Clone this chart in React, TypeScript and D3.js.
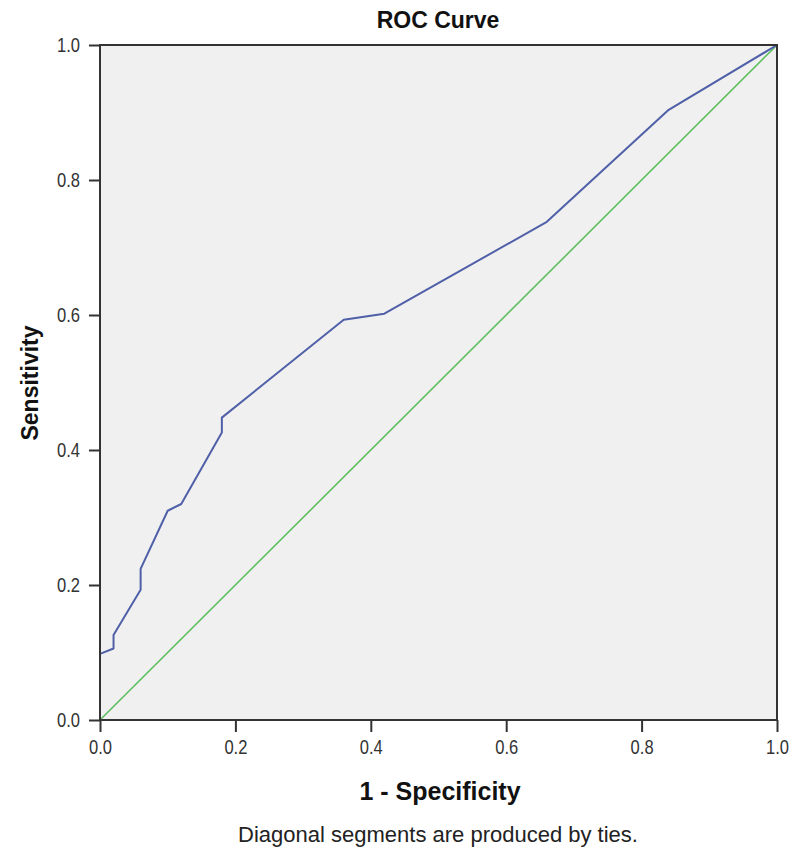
import React, { useEffect, useRef } from 'react';
import * as d3 from 'd3';

// ROC points
const falsePositiveRate = [0, 0, 0.02, 0.02, 0.06, 0.06, 0.10, 0.12, 0.18, 0.18, 0.36, 0.42, 0.66, 0.84, 1];
const sensitivity = [0, 0.098, 0.106, 0.126, 0.193, 0.224, 0.31, 0.32, 0.426, 0.448, 0.593, 0.602, 0.738, 0.904, 1];
const referenceLine = [0, 1];
const tickValues = [0, 0.2, 0.4, 0.6, 0.8, 1.0];

const narrowFont = '"Liberation Sans Narrow", "Arial Narrow", "Liberation Sans", Arial, sans-serif';
const boldFont = '"Liberation Sans", Arial, sans-serif';

const RocChart = () => {
  const ref = useRef<SVGSVGElement>(null);

  useEffect(() => {
    document.body.style.margin = '0';

    const width = 800;
    const height = 859;
    const left = 100, right = 777, top = 45, bottom = 720;

    const svg = d3.select(ref.current);
    svg.selectAll('*').remove();

    svg.append('rect')
      .attr('width', width)
      .attr('height', height)
      .attr('fill', '#ffffff');

    const x = d3.scaleLinear().domain([0, 1]).range([left, right]);
    const y = d3.scaleLinear().domain([0, 1]).range([bottom, top]);

    svg.append('rect')
      .attr('x', left)
      .attr('y', top)
      .attr('width', right - left)
      .attr('height', bottom - top)
      .attr('fill', '#f0f0f0');

    // diagonal reference
    const line = d3.line<number>()
      .x(d => x(d))
      .y(d => y(d));

    svg.append('path')
      .datum(referenceLine)
      .attr('d', line)
      .attr('fill', 'none')
      .attr('stroke', '#5fbf5f')
      .attr('stroke-width', 1.6);

    const rocLine = d3.line<number>()
      .x(d => x(falsePositiveRate[d]))
      .y(d => y(sensitivity[d]));

    svg.append('path')
      .datum(d3.range(falsePositiveRate.length))
      .attr('d', rocLine)
      .attr('fill', 'none')
      .attr('stroke', '#5060a8')
      .attr('stroke-width', 2)
      .attr('stroke-linejoin', 'round');

    // frame
    svg.append('rect')
      .attr('x', left)
      .attr('y', top)
      .attr('width', right - left)
      .attr('height', bottom - top)
      .attr('fill', 'none')
      .attr('stroke', '#333333')
      .attr('stroke-width', 2);

    const xAxis = d3.axisBottom(x)
      .tickValues(tickValues)
      .tickSize(12)
      .tickPadding(8)
      .tickFormat(d3.format('.1f'));

    const gx = svg.append('g')
      .attr('transform', `translate(0,${bottom})`)
      .call(xAxis);
    gx.select('.domain').remove();
    gx.selectAll('line').attr('stroke', '#333333').attr('stroke-width', 2);
    gx.selectAll('text')
      .attr('font-family', narrowFont)
      .attr('font-size', 20)
      .attr('textLength', 23)
      .attr('lengthAdjust', 'spacingAndGlyphs')
      .attr('fill', '#333333');

    const yAxis = d3.axisLeft(y)
      .tickValues(tickValues)
      .tickSize(11)
      .tickPadding(9)
      .tickFormat(d3.format('.1f'));

    const gy = svg.append('g')
      .attr('transform', `translate(${left},0)`)
      .call(yAxis);
    gy.select('.domain').remove();
    gy.selectAll('line').attr('stroke', '#333333').attr('stroke-width', 2);
    gy.selectAll('text')
      .attr('font-family', narrowFont)
      .attr('font-size', 20)
      .attr('textLength', 23)
      .attr('lengthAdjust', 'spacingAndGlyphs')
      .attr('fill', '#333333');

    svg.append('text')
      .attr('x', 438)
      .attr('y', 28)
      .attr('text-anchor', 'middle')
      .attr('font-family', boldFont)
      .attr('font-weight', 'bold')
      .attr('font-size', 23)
      .attr('fill', '#111111')
      .text('ROC Curve');

    svg.append('text')
      .attr('x', 440)
      .attr('y', 800)
      .attr('text-anchor', 'middle')
      .attr('font-family', narrowFont)
      .attr('font-weight', 'bold')
      .attr('font-size', 25)
      .attr('fill', '#111111')
      .text('1 - Specificity');

    svg.append('text')
      .attr('transform', `translate(38,383) rotate(-90)`)
      .attr('text-anchor', 'middle')
      .attr('font-family', boldFont)
      .attr('font-weight', 'bold')
      .attr('font-size', 23)
      .attr('fill', '#111111')
      .text('Sensitivity');

    svg.append('text')
      .attr('x', 438)
      .attr('y', 842)
      .attr('text-anchor', 'middle')
      .attr('font-family', narrowFont)
      .attr('font-size', 22)
      .attr('fill', '#222222')
      .text('Diagonal segments are produced by ties.');
  }, []);

  return <svg ref={ref} width={800} height={859} style={{ display: 'block' }} />;
};

export default function App() {
  return <RocChart />;
}
